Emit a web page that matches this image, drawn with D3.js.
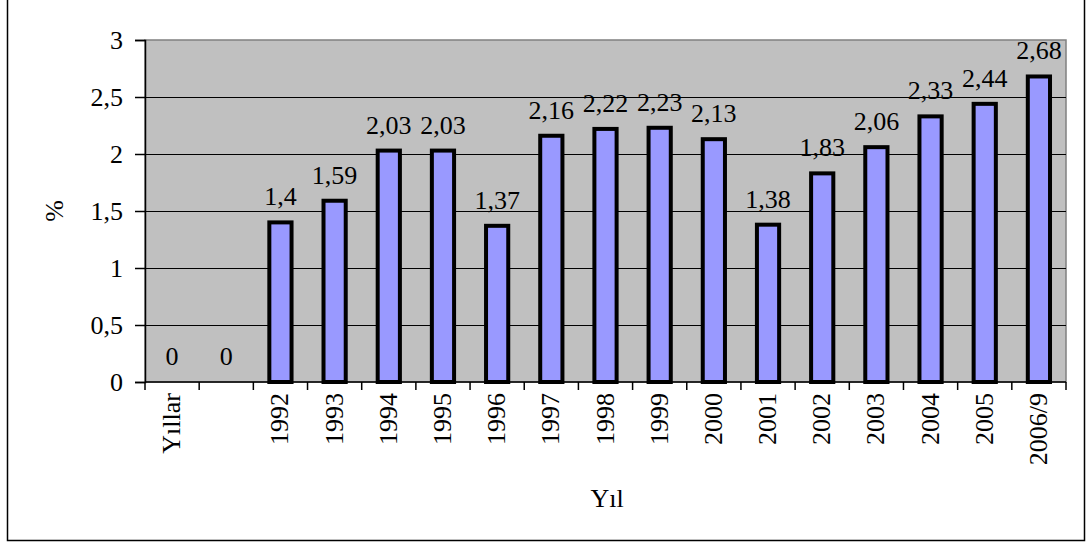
<!DOCTYPE html>
<html>
  <head>
    <meta charset="utf-8">
    <title>Yil</title>
    <script src="https://d3js.org/d3.v7.min.js"></script>
    <style>
      body { margin: 0; background: #fff; }
      svg text { font-family: "Liberation Serif", "Times New Roman", serif; fill: #000; font-size: 26px; }
    </style>
  </head>
  <body>
    <svg id="chart" width="1089" height="544"></svg>
    <script>
      // data
      var categories = ["Yıllar", "", "1992", "1993", "1994", "1995", "1996", "1997", "1998",
        "1999", "2000", "2001", "2002", "2003", "2004", "2005", "2006/9"];
      var values = [0, 0, 1.4, 1.59, 2.03, 2.03, 1.37, 2.16, 2.22, 2.23, 2.13, 1.38, 1.83, 2.06, 2.33, 2.44, 2.68];
      var yTicks = [0, 0.5, 1, 1.5, 2, 2.5, 3];

      var chart = d3.select("#chart");
      var plot = { left: 145, top: 40, right: 1066, bottom: 382 };
      var fmt = function(v) { return String(v).replace(".", ","); };

      // outer frame (left, right, bottom)
      chart.append("path")
        .attr("d", "M7.5,0V540.5H1084.5V0")
        .attr("fill", "none").attr("stroke", "#000").attr("stroke-width", 1.5);

      // scales
      var x = d3.scaleBand()
        .domain(d3.range(categories.length))
        .range([plot.left, plot.right]);
      var y = d3.scaleLinear()
        .domain([0, 3])
        .range([plot.bottom, plot.top]);

      // plot background
      chart.append("rect")
        .attr("x", plot.left).attr("y", plot.top)
        .attr("width", plot.right - plot.left).attr("height", plot.bottom - plot.top)
        .attr("fill", "#c0c0c0").attr("stroke", "#808080").attr("stroke-width", 1.5);

      // gridlines
      chart.append("g")
        .selectAll("line")
        .data(yTicks.slice(1, -1))
        .enter().append("line")
          .attr("x1", plot.left).attr("x2", plot.right)
          .attr("y1", function(d) { return Math.round(y(d)) + 0.5; })
          .attr("y2", function(d) { return Math.round(y(d)) + 0.5; })
          .attr("stroke", "#000").attr("stroke-width", 1);

      // bars
      var barW = x.bandwidth() * 0.41;
      chart.append("g")
        .selectAll("rect")
        .data(values.map(function(v, i) { return { v: v, i: i }; }).filter(function(d) { return d.v > 0; }))
        .enter().append("rect")
          .attr("x", function(d) { return x(d.i) + (x.bandwidth() - barW) / 2; })
          .attr("y", function(d) { return y(d.v); })
          .attr("width", barW)
          .attr("height", function(d) { return y(0) - y(d.v); })
          .attr("fill", "#9999ff").attr("stroke", "#000").attr("stroke-width", 4);

      // value labels
      chart.append("g")
        .selectAll("text")
        .data(values)
        .enter().append("text")
          .attr("text-anchor", "middle")
          .attr("x", function(d, i) { return x(i) + x.bandwidth() / 2; })
          .attr("y", function(d) { return y(d) - 17; })
          .text(function(d) { return fmt(d); });

      // y axis
      var yAxis = chart.append("g")
        .attr("transform", "translate(" + plot.left + ",0)")
        .call(d3.axisLeft(y).tickValues(yTicks).tickSize(10).tickPadding(12).tickFormat(fmt));
      yAxis.select(".domain").attr("stroke", "#000").attr("stroke-width", 1.5);
      yAxis.selectAll(".tick line").attr("stroke-width", 1.5);

      // x axis
      var xAxis = chart.append("g")
        .attr("transform", "translate(0," + plot.bottom + ")");
      xAxis.append("line")
        .attr("x1", plot.left).attr("x2", plot.right)
        .attr("stroke", "#000").attr("stroke-width", 1.5);
      xAxis.selectAll(".xtick")
        .data(d3.range(categories.length + 1))
        .enter().append("line")
          .attr("x1", function(i) { return i < categories.length ? x(i) : plot.right; })
          .attr("x2", function(i) { return i < categories.length ? x(i) : plot.right; })
          .attr("y1", 0).attr("y2", 8)
          .attr("stroke", "#000").attr("stroke-width", 1.5);
      xAxis.selectAll(".xlabel")
        .data(categories)
        .enter().append("text")
          .attr("text-anchor", "end")
          .attr("transform", function(d, i) {
            return "translate(" + (x(i) + x.bandwidth() / 2 + 8) + ",11) rotate(-90)";
          })
          .text(function(d) { return d; });

      // axis titles
      chart.append("text")
        .attr("text-anchor", "middle")
        .attr("x", 607).attr("y", 507)
        .text("Yıl");
      chart.append("text")
        .attr("text-anchor", "middle")
        .attr("transform", "translate(63,211) rotate(-90)")
        .text("%");
    </script>
  </body>
</html>
